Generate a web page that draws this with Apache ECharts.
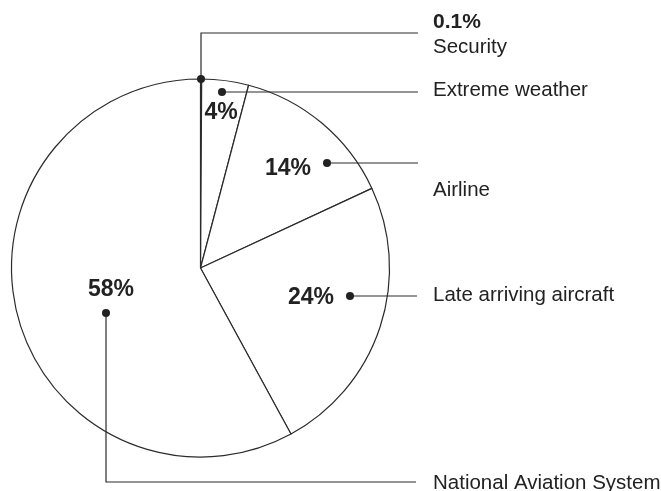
<!DOCTYPE html>
<html>
<head>
<meta charset="utf-8">
<script src="https://cdn.jsdelivr.net/npm/echarts@6/dist/echarts.min.js"></script>
<style>
  html, body { margin: 0; padding: 0; background: #fff; }
  #chart { width: 661px; height: 491px; }
</style>
</head>
<body>
<div id="chart"></div>
<script>
// Causes of flight delays, share of delayed minutes (%)
const categories = ['Security', 'Extreme weather', 'Airline', 'Late arriving aircraft', 'National Aviation System'];
const shares = [0.1, 4, 14, 24, 58];

// Where each value label and name label sits (px)
const valueLabelPos = [[433, 22], [221, 113], [288, 169], [311, 298], [111, 290]];
const nameLabelPos = [[433, 47], [433, 90], [433, 190], [433, 295], [433, 483]];
// Leader lines from a dot in (or on) each slice out to its name
const leaderPaths = [
  [[201, 79], [201, 33], [418, 33]],
  [[222, 92], [418, 92]],
  [[327, 163], [418, 163]],
  [[350, 296], [417, 296]],
  [[106, 313], [106, 482], [416, 482]]
];

const INK = '#2b2b2b';
const FONT = '"Liberation Sans", Arial, Helvetica, sans-serif';
const CENTER = [200.5, 268];
const RADIUS = 189;

const pieData = categories.map((name, i) => ({ name: name, value: shares[i] }));

const graphics = [];
leaderPaths.forEach(path => {
  graphics.push({
    type: 'polyline',
    silent: true,
    z: 50,
    shape: { points: path },
    style: { stroke: INK, lineWidth: 1.2, fill: null }
  });
  graphics.push({
    type: 'circle',
    silent: true,
    z: 60,
    shape: { cx: path[0][0], cy: path[0][1], r: 4 },
    style: { fill: '#222' }
  });
});

const chart = echarts.init(document.getElementById('chart'), null, { renderer: 'canvas' });
chart.setOption({
  animation: false,
  backgroundColor: '#ffffff',
  series: [
    {
      type: 'pie',
      center: CENTER,
      radius: RADIUS,
      startAngle: 90,
      clockwise: true,
      avoidLabelOverlap: false,
      silent: true,
      itemStyle: { color: '#ffffff', borderColor: INK, borderWidth: 1.2 },
      label: {
        show: true,
        position: 'inside',
        formatter: '{c}%',
        color: '#222',
        fontFamily: FONT,
        fontWeight: 'bold',
        fontSize: 23
      },
      labelLine: { show: false },
      labelLayout: function (params) {
        const i = params.dataIndex;
        const p = valueLabelPos[i];
        return {
          x: p[0], y: p[1],
          align: i === 0 ? 'left' : 'center',
          verticalAlign: 'middle',
          fontSize: i === 0 ? 21 : 23
        };
      },
      data: pieData
    },
    {
      type: 'pie',
      center: CENTER,
      radius: RADIUS,
      startAngle: 90,
      clockwise: true,
      avoidLabelOverlap: false,
      silent: true,
      itemStyle: { color: 'rgba(0,0,0,0)', borderWidth: 0 },
      label: {
        show: true,
        position: 'inside',
        formatter: '{b}',
        color: '#222',
        fontFamily: FONT,
        fontSize: 20.5
      },
      labelLine: { show: false },
      labelLayout: function (params) {
        const p = nameLabelPos[params.dataIndex];
        return { x: p[0], y: p[1], align: 'left', verticalAlign: 'middle' };
      },
      data: pieData
    }
  ],
  graphic: graphics
});
</script>
</body>
</html>
